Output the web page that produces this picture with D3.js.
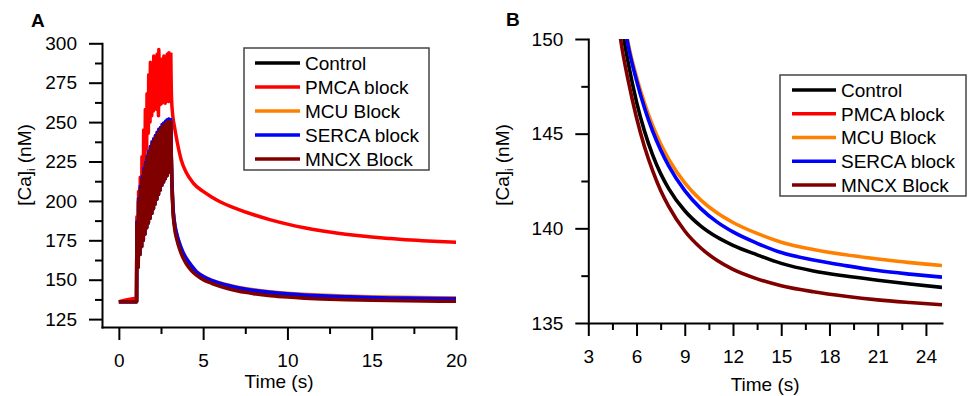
<!DOCTYPE html>
<html><head><meta charset="utf-8">
<script src="https://cdn.jsdelivr.net/npm/d3@7"></script>
<style>
body{margin:0;background:#fff}
text{font-family:"Liberation Sans",Arial,Helvetica,sans-serif;fill:#000}
</style>
</head><body>
<svg id="chart" width="972" height="396"></svg>
<script>
// ---------------- DATA ----------------
const seriesNames = ["Control", "PMCA block", "MCU Block", "SERCA block", "MNCX Block"];
const seriesColors = ["#000000", "#ff0000", "#ff8000", "#0000ff", "#800000"];

// panel A axis ticks
const aXMajor = [0, 5, 10, 15, 20];
const aXMinor = [2.5, 7.5, 12.5, 17.5];
const aYMajor = [125, 150, 175, 200, 225, 250, 275, 300];
const aYMinor = [137.5, 162.5, 187.5, 212.5, 237.5, 262.5, 287.5];
// panel B axis ticks
const bXMajor = [3, 6, 9, 12, 15, 18, 21, 24];
const bXMinor = [4.5, 7.5, 10.5, 13.5, 16.5, 19.5, 22.5];
const bYMajor = [135, 140, 145, 150];
const bYMinor = [137.5, 142.5, 147.5];

// resting baseline before stimulation (s, nM)
const baseTimes = [0, 0.5, 1.0];
const baseControl = [136, 136, 136];
const basePMCA = [136, 137.3, 138.2];

// stimulus train (s) and the trough / peak [Ca]i reached at each pulse (nM)
const pulseTimes = [1.05, 1.15, 1.25, 1.35, 1.45, 1.55, 1.65, 1.75, 1.85, 1.95, 2.05, 2.15, 2.25, 2.35, 2.45, 2.55, 2.65, 2.75, 2.85, 2.95, 3.05];
const troughBand = [136, 158, 166, 171, 175, 179, 183, 186, 189, 192, 195, 198, 201, 204, 207, 210, 212, 214, 216, 218, 220];
const peakBand = [186, 200, 208, 214, 219, 223, 227, 230, 233, 236, 238, 240, 242, 244, 245, 247, 248, 249, 250, 250.5, 251];
const peakBandHigh = [187, 201.5, 209.5, 215.5, 220.5, 224.5, 228.5, 231.5, 234.5, 237.5, 239.5, 241.5, 243.5, 245.5, 246.5, 248.5, 249.5, 250.5, 251.5, 252, 252.5];
const troughPMCA = [138, 178, 188, 198, 208, 220, 233, 243, 250, 254, 257, 259, 258, 254, 261, 262, 263, 262, 264, 263, 264];
const peakPMCA = [190, 206, 215, 228, 245, 258, 268, 280, 288, 284, 292, 287, 293, 296, 285, 290, 292, 289, 293, 294, 294];

// recovery after the train (s, nM)
const decayTimes = [3.12, 3.2, 3.3, 3.45, 3.6, 3.8, 4.0, 4.3, 4.6, 5.0, 5.5, 6, 6.5, 7, 7.5, 8, 9, 10, 11, 12, 13.5, 15, 17, 19, 21, 23, 25];
const decayControl = [223, 197, 185, 177, 171.5, 166, 162, 157.6, 154.3, 151.2, 148.67, 146.68, 145.12, 143.88, 142.89, 142.1, 140.93, 140.12, 139.54, 139.1, 138.6, 138.15, 137.75, 137.48, 137.26, 137.06, 136.88];
const decayMCU = [224, 198.5, 186.5, 178.5, 173.2, 167.8, 163.8, 159.2, 155.4, 152.3, 149.7, 148.0, 146.6, 145.43, 144.46, 143.65, 142.4, 141.49, 140.82, 140.31, 139.73, 139.27, 138.88, 138.6, 138.38, 138.19, 138.04];
const decaySERCA = [224, 198.5, 186.5, 178.5, 173, 167.5, 163.5, 159.0, 155.1, 152.1, 149.56, 147.81, 146.35, 145.14, 144.14, 143.3, 141.99, 141.04, 140.34, 139.81, 139.21, 138.72, 138.33, 138.03, 137.77, 137.58, 137.42];
const decayMNCX = [222, 195, 183, 175, 169.5, 164, 160, 155.8, 152.9, 150.05, 147.73, 145.84, 144.3, 143.05, 142.0, 141.16, 139.86, 138.96, 138.31, 137.83, 137.33, 136.97, 136.65, 136.41, 136.22, 136.08, 135.96];
const decayPMCATimes = [3.12, 3.2, 3.3, 3.45, 3.7, 4.0, 4.4, 5.0, 5.5, 6, 7, 8, 9, 10, 11, 12, 13, 14, 15, 16, 17, 18, 19, 20, 21, 25];
const decayPMCA = [266, 254, 247, 238, 226, 218, 211.5, 206, 202.5, 199.5, 195, 191.2, 188, 185.3, 183, 181.1, 179.5, 178.2, 177.1, 176.2, 175.4, 174.8, 174.2, 173.7, 173.3, 172.2];

// ---------------- BUILD ----------------
const zip = (ts, vs) => ts.map((t, i) => [t, vs[i]]);
function pulsePoints(trough, peak) {
  const pts = [];
  pulseTimes.forEach((t, i) => { pts.push([t, trough[i]]); pts.push([t + 0.02, peak[i]]); });
  return pts;
}
const seriesDefs = [
  {base: baseControl, trough: troughBand, peak: peakBand, dT: decayTimes, dV: decayControl},
  {base: basePMCA, trough: troughPMCA, peak: peakPMCA, dT: decayPMCATimes, dV: decayPMCA},
  {base: baseControl, trough: troughBand, peak: peakBandHigh, dT: decayTimes, dV: decayMCU},
  {base: baseControl, trough: troughBand, peak: peakBandHigh, dT: decayTimes, dV: decaySERCA},
  {base: baseControl, trough: troughBand, peak: peakBand, dT: decayTimes, dV: decayMNCX}
];
const series = seriesDefs.map((d, i) => {
  const rise = zip(baseTimes, d.base).concat(pulsePoints(d.trough, d.peak));
  const lastPeak = rise[rise.length - 1];
  const decay = [lastPeak].concat(zip(d.dT, d.dV));
  return {name: seriesNames[i], color: seriesColors[i], rise, decay};
});

const svg = d3.select("#chart");
const FS = 19;

function panel(opts) {
  const {id, x, y, xMaj, xMin, yMaj, yMin, lw, legend, letter, titleY} = opts;
  const g = svg.append("g");
  const [x0, x1] = x.range();
  const [y0, y1] = y.range();
  svg.append("clipPath").attr("id", id).append("rect")
    .attr("x", x0).attr("y", y1).attr("width", x1 - x0).attr("height", y0 - y1);
  const lines = g.append("g").attr("clip-path", `url(#${id})`);
  const lin = d3.line().x(d => x(d[0])).y(d => y(d[1])).curve(d3.curveLinear);
  const smooth = d3.line().x(d => x(d[0])).y(d => y(d[1])).curve(d3.curveMonotoneX);
  series.forEach(s => {
    lines.append("path").attr("d", lin(s.rise)).attr("fill", "none")
      .attr("stroke", s.color).attr("stroke-width", lw).attr("stroke-linejoin", "round");
    lines.append("path").attr("d", smooth(s.decay)).attr("fill", "none")
      .attr("stroke", s.color).attr("stroke-width", lw).attr("stroke-linejoin", "round");
  });
  const style = sel => {
    sel.select(".domain").attr("stroke", "#000").attr("stroke-width", 2).attr("stroke-linecap", "square");
    sel.selectAll(".tick line").attr("stroke", "#000").attr("stroke-width", 2);
    sel.selectAll("text").attr("font-size", FS).attr("font-family", null).attr("fill", "#000");
  };
  g.append("g").attr("transform", `translate(0,${y0})`)
    .call(d3.axisBottom(x).tickValues(xMin).tickSize(7).tickSizeOuter(0).tickFormat(""))
    .call(style).call(s => s.select(".domain").remove());
  g.append("g").attr("transform", `translate(${x0},0)`)
    .call(d3.axisLeft(y).tickValues(yMin).tickSize(7).tickSizeOuter(0).tickFormat(""))
    .call(style).call(s => s.select(".domain").remove());
  g.append("g").attr("transform", `translate(0,${y0})`)
    .call(d3.axisBottom(x).tickValues(xMaj).tickSize(13).tickSizeOuter(0).tickPadding(14).tickFormat(d3.format("d")))
    .call(style);
  g.append("g").attr("transform", `translate(${x0},0)`)
    .call(d3.axisLeft(y).tickValues(yMaj).tickSize(13).tickSizeOuter(0).tickPadding(12).tickFormat(d3.format("d")))
    .call(style);
  g.append("text").attr("x", (x0 + x1) / 2).attr("y", titleY).attr("text-anchor", "middle")
    .attr("font-size", FS).text("Time (s)");
  const yt = g.append("text").attr("transform", `translate(${opts.yTitleX},165) rotate(-90)`)
    .attr("text-anchor", "middle").attr("font-size", FS);
  yt.append("tspan").text("[Ca]");
  yt.append("tspan").attr("font-size", 11).attr("dy", 4).text("i");
  yt.append("tspan").attr("dy", -4).text(" (nM)");
  g.append("text").attr("x", letter[0]).attr("y", letter[1]).attr("font-weight", "bold")
    .attr("font-size", 19).text(letter[2]);
  const L = legend;
  const lg = g.append("g");
  lg.append("rect").attr("x", L.x).attr("y", L.y).attr("width", L.w).attr("height", L.h)
    .attr("fill", "#fff").attr("stroke", "#444").attr("stroke-width", 1.5);
  series.forEach((s, i) => {
    const cy = L.first + i * L.step;
    lg.append("line").attr("x1", L.lx1).attr("x2", L.lx2).attr("y1", cy).attr("y2", cy)
      .attr("stroke", s.color).attr("stroke-width", 3.6);
    lg.append("text").attr("x", L.tx).attr("y", cy + 6.8).attr("font-size", FS).text(s.name);
  });
}

panel({
  id: "clipA",
  x: d3.scaleLinear().domain([-1, 20]).range([102, 456]),
  y: d3.scaleLinear().domain([120, 300]).range([327, 43.3]),
  xMaj: aXMajor, xMin: aXMinor, yMaj: aYMajor, yMin: aYMinor,
  lw: 3.5, titleY: 388, yTitleX: 31,
  letter: [31, 27, "A"],
  legend: {x: 244, y: 48, w: 185, h: 122, first: 63, step: 24, lx1: 255, lx2: 300, tx: 305}
});
panel({
  id: "clipB",
  x: d3.scaleLinear().domain([3, 25]).range([588.3, 942]),
  y: d3.scaleLinear().domain([135, 150]).range([323, 39]),
  xMaj: bXMajor, xMin: bXMinor, yMaj: bYMajor, yMin: bYMinor,
  lw: 3.6, titleY: 391, yTitleX: 509,
  letter: [506, 26, "B"],
  legend: {x: 780, y: 75, w: 186, h: 121, first: 90, step: 23.75, lx1: 792, lx2: 836, tx: 841}
});
</script>
</body></html>
